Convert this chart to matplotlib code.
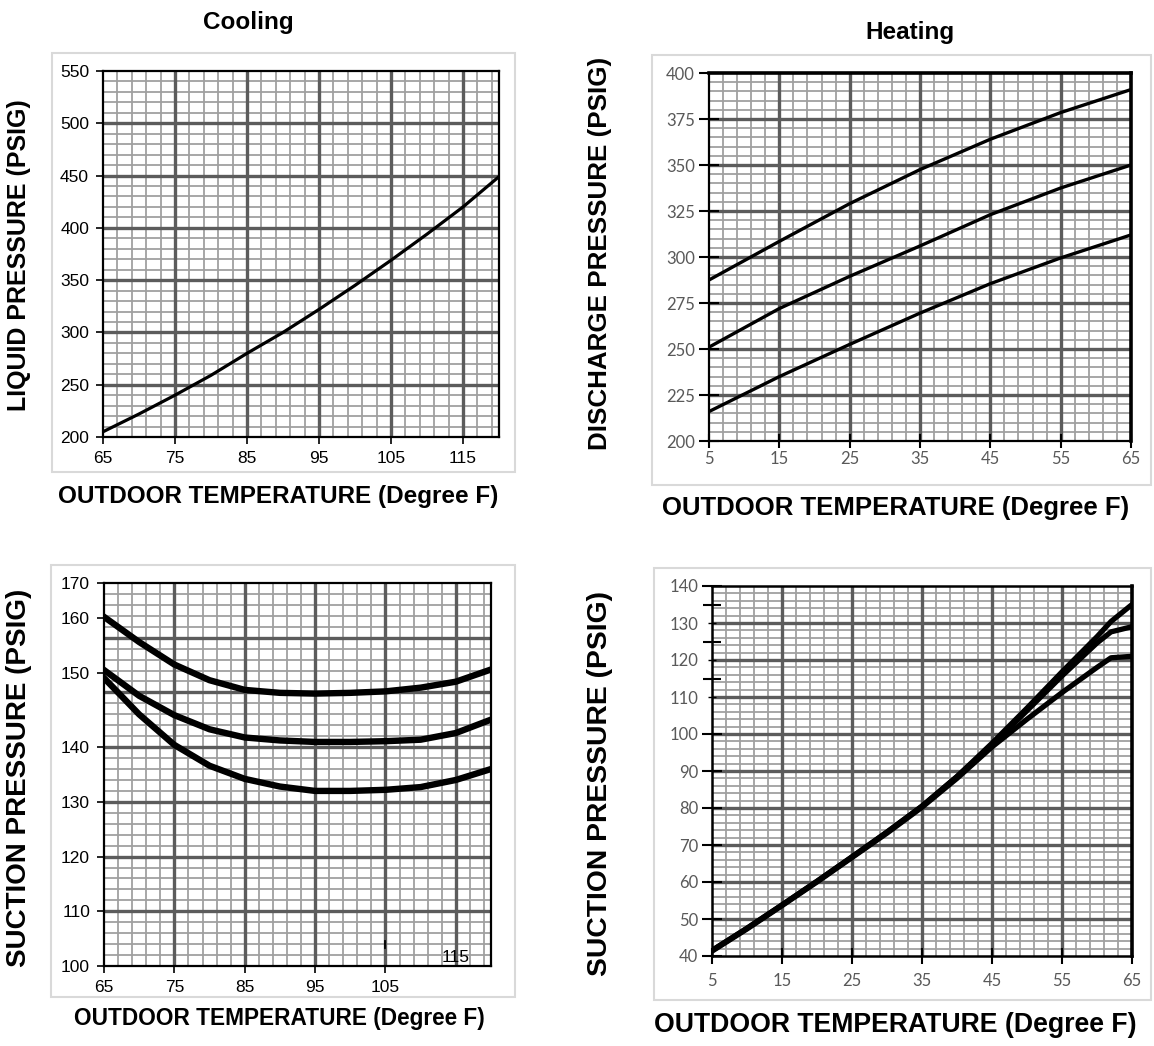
import numpy as np
import matplotlib.pyplot as plt
from matplotlib.collections import LineCollection
from matplotlib.patches import Rectangle

plt.rcParams['font.family'] = ['Liberation Sans', 'DejaVu Sans']

# cooling: liquid pressure vs outdoor temp
cool_temp = [65, 70, 75, 80, 85, 90, 95, 100, 105, 110, 115, 120]
liquid_psig = [205, 222, 240, 259, 280, 300, 322, 345, 369, 394, 420, 449]

# cooling: suction pressure, three curves
suction_hi = [160.3, 155.6, 151.5, 149.0, 147.7, 147.3, 147.2, 147.3, 147.5, 148.0, 148.8, 150.6]
suction_mid = [150.5, 146.9, 144.3, 142.4, 141.3, 140.9, 140.7, 140.7, 140.8, 141.0, 141.9, 143.7]
suction_lo = [149.3, 144.4, 140.3, 136.6, 134.2, 132.8, 132.0, 132.0, 132.2, 132.7, 134.0, 136.0]

# cooling suction axis labels and where they sit on the sheet (fraction of height)
suction_ticks = [100, 110, 120, 130, 140, 150, 160, 170]
suction_tick_pos = [0, 1/7, 2/7, 3/7, 4/7, 0.7656, 0.9089, 1.0]

# heating: discharge pressure, three curves
heat_temp = [5, 15, 25, 35, 45, 55, 65]
discharge_hi = [287.5, 308.5, 329, 347.5, 364, 378.5, 391]
discharge_mid = [251, 272, 289.5, 306, 323, 337.5, 350]
discharge_lo = [216, 235, 252.5, 269.5, 285.5, 299.5, 312]

# heating: suction pressure, three curves
heat_temp2 = [5, 10, 15, 20, 25, 30, 35, 40, 45, 50, 55, 60, 62, 65]
hsuction_hi = [41.5, 47.5, 53.8, 60.2, 66.8, 73.5, 80.5, 88.5, 97.5, 107.0, 116.8, 126.3, 130.4, 135]
hsuction_mid = [41.5, 47.5, 53.8, 60.2, 66.8, 73.5, 80.5, 88.5, 97.0, 106.3, 115.7, 124.6, 127.6, 129]
hsuction_lo = [41.3, 47.3, 53.6, 60.0, 66.6, 73.2, 80.2, 88.0, 96.5, 104.0, 111.2, 118.0, 120.6, 121]

W, H = 1154, 1046
fig = plt.figure(figsize=(W / 100, H / 100), dpi=100)


def px_axes(x0, y0, x1, y1):
    return fig.add_axes([x0 / W, 1 - y1 / H, (x1 - x0) / W, (y1 - y0) / H])


def frame(x0, y0, x1, y1):
    fig.patches.append(Rectangle((x0 / W, 1 - y1 / H), (x1 - x0) / W, (y1 - y0) / H,
                                 transform=fig.transFigure, fill=False,
                                 edgecolor='#d9d9d9', linewidth=1.5))


def paper(ax, xs_minor, xs_major, ys_minor, ys_major):
    # graph-paper grid, drawn in axes fractions
    minor = [[(x, 0), (x, 1)] for x in xs_minor] + [[(0, y), (1, y)] for y in ys_minor]
    major = [[(x, 0), (x, 1)] for x in xs_major] + [[(0, y), (1, y)] for y in ys_major]
    ax.add_collection(LineCollection(minor, colors='#a0a0a0', linewidths=1.3,
                                     transform=ax.transAxes, zorder=1), autolim=False)
    ax.add_collection(LineCollection(major, colors='#5c5c5c', linewidths=2.4,
                                     transform=ax.transAxes, zorder=1.5), autolim=False)


def fig_text(x, y, s, **kw):
    fig.text(x / W, 1 - y / H, s, ha='center', va='center', fontweight='bold', **kw)


gray = '#595959'

# ---- Cooling, liquid pressure ----
frame(52, 53, 515, 472)
ax1 = px_axes(103, 71, 499, 437)
paper(ax1, (np.arange(67, 120, 2) - 65) / 55, (np.arange(75, 120, 10) - 65) / 55,
      np.arange(1, 35) / 35, np.arange(5, 35, 5) / 35)
ax1.plot(cool_temp, liquid_psig, color='black', lw=2.3, zorder=3)
ax1.set_xlim(65, 120)
ax1.set_ylim(200, 550)
ax1.set_xticks(range(65, 120, 10))
ax1.set_yticks(range(200, 551, 50))
ax1.tick_params(direction='out', length=5, width=1.2, labelsize=12.5, pad=5)
for s in ax1.spines.values():
    s.set_linewidth(1.6)

# ---- Cooling, suction pressure ----
frame(51, 565, 515, 997)
ax2 = px_axes(104, 583, 491, 966)
ax2.set_yscale('function', functions=(lambda v: np.interp(v, suction_ticks, suction_tick_pos),
                                      lambda p: np.interp(p, suction_tick_pos, suction_ticks)))
paper(ax2, (np.arange(67, 120, 2) - 65) / 55, (np.arange(75, 120, 10) - 65) / 55,
      np.arange(1, 35) / 35, np.arange(5, 35, 5) / 35)
for ys in (suction_hi, suction_mid, suction_lo):
    ax2.plot(cool_temp, ys, color='black', lw=4.6, zorder=3, solid_joinstyle='round')
ax2.set_xlim(65, 120)
ax2.set_ylim(100, 170)
ax2.set_xticks(range(65, 106, 10))
ax2.set_yticks(suction_ticks)
ax2.tick_params(direction='out', length=5, width=1.2, labelsize=12.5, pad=5)
ax2.text(115, 0.022, '115', transform=ax2.get_xaxis_transform(), ha='center',
         va='center', fontsize=12.5, zorder=4)
ax2.plot([105, 105], [0.047, 0.064], transform=ax2.get_xaxis_transform(),
         color='black', lw=1.3, zorder=4)
for s in ax2.spines.values():
    s.set_linewidth(1.6)

# ---- Heating, discharge pressure ----
frame(652, 55, 1151, 485)
ax3 = px_axes(709, 73, 1131, 441)
paper(ax3, (np.arange(7, 65, 2) - 5) / 60, (np.arange(15, 65, 10) - 5) / 60,
      np.arange(1, 40) / 40, np.arange(5, 40, 5) / 40)
for ys in (discharge_hi, discharge_mid, discharge_lo):
    ax3.plot(heat_temp, ys, color='black', lw=2.4, zorder=3)
ax3.set_xlim(5, 65)
ax3.set_ylim(200, 400)
xt = list(range(5, 66, 10))
yt = list(range(200, 401, 25))
ax3.set_xticks(xt, [str(v) for v in xt], fontfamily='Lato', color=gray, fontsize=12)
ax3.set_yticks(yt, [str(v) for v in yt], fontfamily='Lato', color=gray, fontsize=12)
ax3.tick_params(axis='y', direction='inout', length=14, width=1.5, pad=3)
ax3.tick_params(axis='x', direction='inout', length=10, width=1.5, pad=2)
for name, s in ax3.spines.items():
    s.set_linewidth(2.6 if name in ('top', 'right') else 1.6)

# ---- Heating, suction pressure ----
frame(654, 568, 1151, 1000)
ax4 = px_axes(712, 586, 1132, 956)
paper(ax4, (np.arange(7, 65, 2) - 5) / 60, (np.arange(15, 65, 10) - 5) / 60,
      np.arange(1, 50) / 50, np.arange(5, 50, 5) / 50)
for ys in (hsuction_hi, hsuction_mid, hsuction_lo):
    ax4.plot(heat_temp2, ys, color='black', lw=3.8, zorder=3, solid_joinstyle='round')
ax4.set_xlim(5, 65)
ax4.set_ylim(40, 140)
yt4 = list(range(40, 141, 10))
ax4.set_xticks(xt, [str(v) for v in xt], fontfamily='Lato', color=gray, fontsize=12)
ax4.set_yticks(yt4, [str(v) for v in yt4], fontfamily='Lato', color=gray, fontsize=12)
ax4.set_yticks([115, 125, 135], minor=True)
ax4.tick_params(axis='y', which='major', direction='inout', length=14, width=1.5, pad=3)
ax4.tick_params(axis='y', which='minor', direction='inout', length=13, width=1.5)
ax4.tick_params(axis='x', direction='inout', length=12, width=1.5, pad=6)
for v, t in zip(yt4, ax4.yaxis.get_major_ticks()):
    if v in (110, 120, 130):
        t.tick1line.set_color('#b0b0b0')
        t.tick1line.set_markersize(6)
        t.tick1line.set_markeredgewidth(1.0)
for name, s in ax4.spines.items():
    s.set_linewidth(2.6 if name == 'right' else 1.8)

# ---- titles and axis labels ----
fig_text(248, 22, 'Cooling', fontsize=17.5)
fig_text(910, 32, 'Heating', fontsize=17.5)
xlab = 'OUTDOOR TEMPERATURE (Degree F)'
fig_text(278, 497, xlab, fontsize=17.5)
fig_text(896, 508, xlab, fontsize=18.5)
fig_text(279, 1018, xlab, fontsize=16.3)
fig_text(895, 1025, xlab, fontsize=19.2)
fig_text(19, 255, 'LIQUID PRESSURE (PSIG)', fontsize=18, rotation=90)
fig_text(600, 253, 'DISCHARGE PRESSURE (PSIG)', fontsize=18.7, rotation=90)
fig_text(19, 778, 'SUCTION PRESSURE (PSIG)', fontsize=20, rotation=90)
fig_text(600, 784, 'SUCTION PRESSURE (PSIG)', fontsize=20.3, rotation=90)

fig.savefig('out.png', dpi=100)
